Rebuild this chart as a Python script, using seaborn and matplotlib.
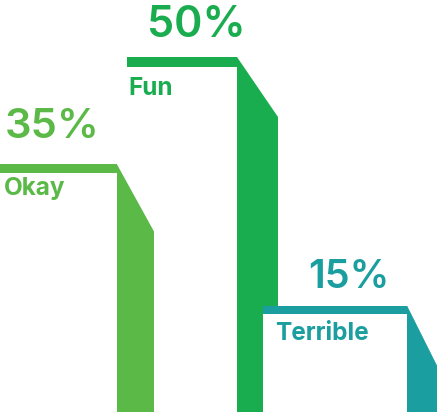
import matplotlib
matplotlib.use("Agg")
import matplotlib.pyplot as plt
from matplotlib.patches import Polygon, Rectangle
import seaborn as sns

# data
categories = ["Okay", "Fun", "Terrible"]
values = [35, 50, 15]
value_labels = ["35%", "50%", "15%"]
colors = ["#5ab947", "#1aad4f", "#1b9e9f"]

# layout (x in pixel-like units, y in percent)
line_left = [0, 127, 263]
bar_left = [116.5, 237, 407]
bar_right = [154, 278, 437]
drop_px = [68, 60, 60]
line_px = [9.5, 9.5, 8]
layer = [1, 0, 1]
val_dx = [5, 20, 45]
val_dy = [26, 20, 17]
val_size = [30, 31, 28.5]
cat_dx = [4, 1, 12]
cat_dy = [31, 38, 35]

PX = 7.1  # pixels per percent
W, H = 438, 412

sns.set_theme(style="white")
plt.rcParams["font.family"] = ["Inter", "DejaVu Sans"]

fig = plt.figure(figsize=(W / 100, H / 100), dpi=100)
ax = fig.add_axes([0, 0, 1, 1])

bar_center = [(l + r) / 2 for l, r in zip(bar_left, bar_right)]
sns.barplot(x=bar_center, y=values, hue=categories, palette=colors,
            native_scale=True, dodge=False, legend=False, saturation=1,
            linewidth=0, ax=ax)

# fit each bar to its own width
for p in ax.patches:
    cx = p.get_x() + p.get_width() / 2
    i = min(range(3), key=lambda k: abs(bar_center[k] - cx))
    p.set_x(bar_left[i])
    p.set_width(bar_right[i] - bar_left[i])
    p.set_zorder(2 + 3 * layer[i])

pt = 72 / 100  # points per pixel
for i, v in enumerate(values):
    z = 1.5 + 3 * layer[i]
    thick = line_px[i] / PX
    # white panel under the shelf
    ax.add_patch(Rectangle((line_left[i], 0), bar_left[i] - line_left[i], v,
                           facecolor="white", edgecolor="none", zorder=z))
    # shelf line
    ax.add_patch(Rectangle((line_left[i], v - thick), bar_left[i] - line_left[i] + 0.5, thick,
                           facecolor=colors[i], edgecolor="none", zorder=z + 0.5))
    # slanted cut on the bar top
    w = bar_right[i] - bar_left[i]
    d = drop_px[i] / PX
    ext = 4
    cut = [(bar_left[i], v), (bar_right[i] + ext, v - d * (1 + ext / w)),
           (bar_right[i] + ext, v + 2), (bar_left[i], v + 2)]
    ax.add_patch(Polygon(cut, closed=True, facecolor="white", edgecolor="none", zorder=z + 1.5))

    ax.annotate(value_labels[i], (line_left[i], v), xytext=(val_dx[i] * pt, val_dy[i] * pt),
                textcoords="offset points", ha="left", va="baseline",
                fontsize=val_size[i], fontweight="semibold", color=colors[i], zorder=10)
    ax.annotate(categories[i], (line_left[i], v), xytext=(cat_dx[i] * pt, -cat_dy[i] * pt),
                textcoords="offset points", ha="left", va="baseline",
                fontsize=17.5, fontweight="bold", color=colors[i], zorder=10)

ax.set_xlim(0, W)
ax.set_ylim(0, H / PX)
ax.axis("off")

fig.savefig("out.png", dpi=100, facecolor="white")
